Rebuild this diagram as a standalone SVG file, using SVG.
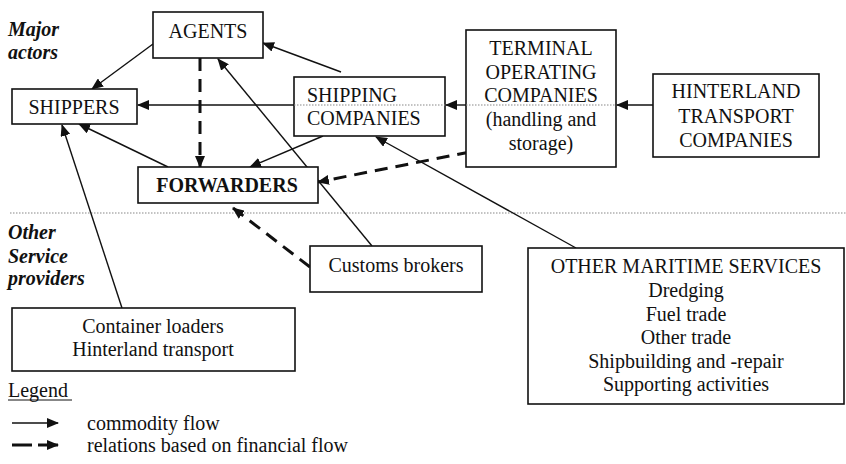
<svg xmlns="http://www.w3.org/2000/svg" width="846" height="464" viewBox="0 0 846 464">
<defs>
<marker id="ah" viewBox="0 0 12 10" refX="11" refY="5" markerWidth="12" markerHeight="10" markerUnits="userSpaceOnUse" orient="auto">
<path d="M0,0 L12,5 L0,10 z" fill="#111"/>
</marker>
</defs>
<rect width="846" height="464" fill="#fff"/>

<g id="separator">
<line x1="10" y1="213" x2="846" y2="213" stroke="#888" stroke-width="1.2" stroke-dasharray="1.5 1.5"/>
</g>

<g id="section-labels" fill="#111">
<text x="8" y="36" font-family="Liberation Serif, Times New Roman, serif" font-size="20" font-weight="bold" font-style="italic">Major</text>
<text x="8" y="59" font-family="Liberation Serif, Times New Roman, serif" font-size="20" font-weight="bold" font-style="italic">actors</text>
<text x="8" y="239" font-family="Liberation Serif, Times New Roman, serif" font-size="20" font-weight="bold" font-style="italic">Other</text>
<text x="8" y="263" font-family="Liberation Serif, Times New Roman, serif" font-size="20" font-weight="bold" font-style="italic">Service</text>
<text x="8" y="285" font-family="Liberation Serif, Times New Roman, serif" font-size="20" font-weight="bold" font-style="italic">providers</text>
</g>

<g id="connectors" fill="none" stroke="#111">
<g stroke-width="1.4">
<line x1="653" y1="105" x2="617" y2="105" marker-end="url(#ah)"/>
<line x1="466" y1="105" x2="446" y2="105" marker-end="url(#ah)"/>
<line x1="294" y1="105" x2="138" y2="105" marker-end="url(#ah)"/>
<line x1="153" y1="44" x2="92" y2="89" marker-end="url(#ah)"/>
<line x1="341" y1="72" x2="263" y2="43" marker-end="url(#ah)"/>
<line x1="168" y1="167" x2="79" y2="124" marker-end="url(#ah)"/>
<line x1="323" y1="136" x2="250" y2="167" marker-end="url(#ah)"/>
<line x1="372" y1="246" x2="218" y2="59" marker-end="url(#ah)"/>
<line x1="576" y1="248" x2="376" y2="137" marker-end="url(#ah)"/>
<line x1="122" y1="308" x2="62" y2="125" marker-end="url(#ah)"/>
</g>
<g stroke-width="3" stroke-dasharray="13 8">
<line x1="200" y1="58" x2="200" y2="167" marker-end="url(#ah)"/>
<line x1="470" y1="152" x2="318" y2="182" marker-end="url(#ah)"/>
<line x1="310" y1="267" x2="233" y2="208" marker-end="url(#ah)"/>
</g>
</g>

<g id="agents" fill="#111">
<rect x="153" y="12" width="110" height="46" fill="#fff" stroke="#111" stroke-width="1.6"/>
<text x="208" y="38" text-anchor="middle" font-family="Liberation Serif, Times New Roman, serif" font-size="20">AGENTS</text>
</g>
<g id="shippers" fill="#111">
<rect x="12" y="89" width="125" height="35" fill="#fff" stroke="#111" stroke-width="1.6"/>
<text x="74" y="114" text-anchor="middle" font-family="Liberation Serif, Times New Roman, serif" font-size="20">SHIPPERS</text>
</g>
<g id="forwarders" fill="#111">
<rect x="138" y="167" width="180" height="36" fill="#fff" stroke="#111" stroke-width="1.6"/>
<text x="227" y="192" text-anchor="middle" font-family="Liberation Serif, Times New Roman, serif" font-size="20" font-weight="bold">FORWARDERS</text>
</g>
<g id="shipping-companies" fill="#111">
<rect x="294" y="77" width="151" height="59" fill="#fff" stroke="#111" stroke-width="1.6"/>
<line x1="294" y1="105" x2="445" y2="105" stroke="#888" stroke-width="1.2" stroke-dasharray="1.5 1.5"/>
<text x="307" y="102" font-family="Liberation Serif, Times New Roman, serif" font-size="20">SHIPPING</text>
<text x="307" y="125" font-family="Liberation Serif, Times New Roman, serif" font-size="20">COMPANIES</text>
</g>
<g id="terminal-operating-companies" fill="#111">
<rect x="466" y="30" width="150" height="137" fill="#fff" stroke="#111" stroke-width="1.6"/>
<line x1="466" y1="105" x2="616" y2="105" stroke="#888" stroke-width="1.2" stroke-dasharray="1.5 1.5"/>
<text x="541" y="55" text-anchor="middle" font-family="Liberation Serif, Times New Roman, serif" font-size="20">TERMINAL</text>
<text x="541" y="79" text-anchor="middle" font-family="Liberation Serif, Times New Roman, serif" font-size="20">OPERATING</text>
<text x="541" y="102" text-anchor="middle" font-family="Liberation Serif, Times New Roman, serif" font-size="20">COMPANIES</text>
<text x="541" y="126" text-anchor="middle" font-family="Liberation Serif, Times New Roman, serif" font-size="20">(handling and</text>
<text x="541" y="150" text-anchor="middle" font-family="Liberation Serif, Times New Roman, serif" font-size="20">storage)</text>
</g>
<g id="hinterland-transport-companies" fill="#111">
<rect x="653" y="74" width="166" height="83" fill="#fff" stroke="#111" stroke-width="1.6"/>
<text x="736" y="98" text-anchor="middle" font-family="Liberation Serif, Times New Roman, serif" font-size="20">HINTERLAND</text>
<text x="736" y="123" text-anchor="middle" font-family="Liberation Serif, Times New Roman, serif" font-size="20">TRANSPORT</text>
<text x="736" y="147" text-anchor="middle" font-family="Liberation Serif, Times New Roman, serif" font-size="20">COMPANIES</text>
</g>
<g id="customs-brokers" fill="#111">
<rect x="310" y="246" width="172" height="46" fill="#fff" stroke="#111" stroke-width="1.6"/>
<text x="396" y="272" text-anchor="middle" font-family="Liberation Serif, Times New Roman, serif" font-size="20">Customs brokers</text>
</g>
<g id="container-loaders" fill="#111">
<rect x="12" y="308" width="283" height="63" fill="#fff" stroke="#111" stroke-width="1.6"/>
<text x="153" y="333" text-anchor="middle" font-family="Liberation Serif, Times New Roman, serif" font-size="20">Container loaders</text>
<text x="153" y="356" text-anchor="middle" font-family="Liberation Serif, Times New Roman, serif" font-size="20">Hinterland transport</text>
</g>
<g id="other-maritime-services" fill="#111">
<rect x="528" y="248" width="316" height="156" fill="#fff" stroke="#111" stroke-width="1.6"/>
<text x="686" y="273" text-anchor="middle" font-family="Liberation Serif, Times New Roman, serif" font-size="20">OTHER MARITIME SERVICES</text>
<text x="686" y="297" text-anchor="middle" font-family="Liberation Serif, Times New Roman, serif" font-size="20">Dredging</text>
<text x="686" y="321" text-anchor="middle" font-family="Liberation Serif, Times New Roman, serif" font-size="20">Fuel trade</text>
<text x="686" y="344" text-anchor="middle" font-family="Liberation Serif, Times New Roman, serif" font-size="20">Other trade</text>
<text x="686" y="368" text-anchor="middle" font-family="Liberation Serif, Times New Roman, serif" font-size="20">Shipbuilding and -repair</text>
<text x="686" y="391" text-anchor="middle" font-family="Liberation Serif, Times New Roman, serif" font-size="20">Supporting activities</text>
</g>

<g id="legend" fill="#111">
<text x="8" y="397" font-family="Liberation Serif, Times New Roman, serif" font-size="20">Legend</text>
<line x1="8" y1="400" x2="72" y2="400" stroke="#111" stroke-width="1"/>
<line x1="12" y1="423" x2="58" y2="423" stroke="#111" stroke-width="1.4" marker-end="url(#ah)"/>
<text x="87" y="430" font-family="Liberation Serif, Times New Roman, serif" font-size="20">commodity flow</text>
<line x1="12" y1="445" x2="32" y2="445" stroke="#111" stroke-width="3"/>
<line x1="38" y1="445" x2="58" y2="445" stroke="#111" stroke-width="3" marker-end="url(#ah)"/>
<text x="87" y="452" font-family="Liberation Serif, Times New Roman, serif" font-size="20">relations based on financial flow</text>
</g>
</svg>
